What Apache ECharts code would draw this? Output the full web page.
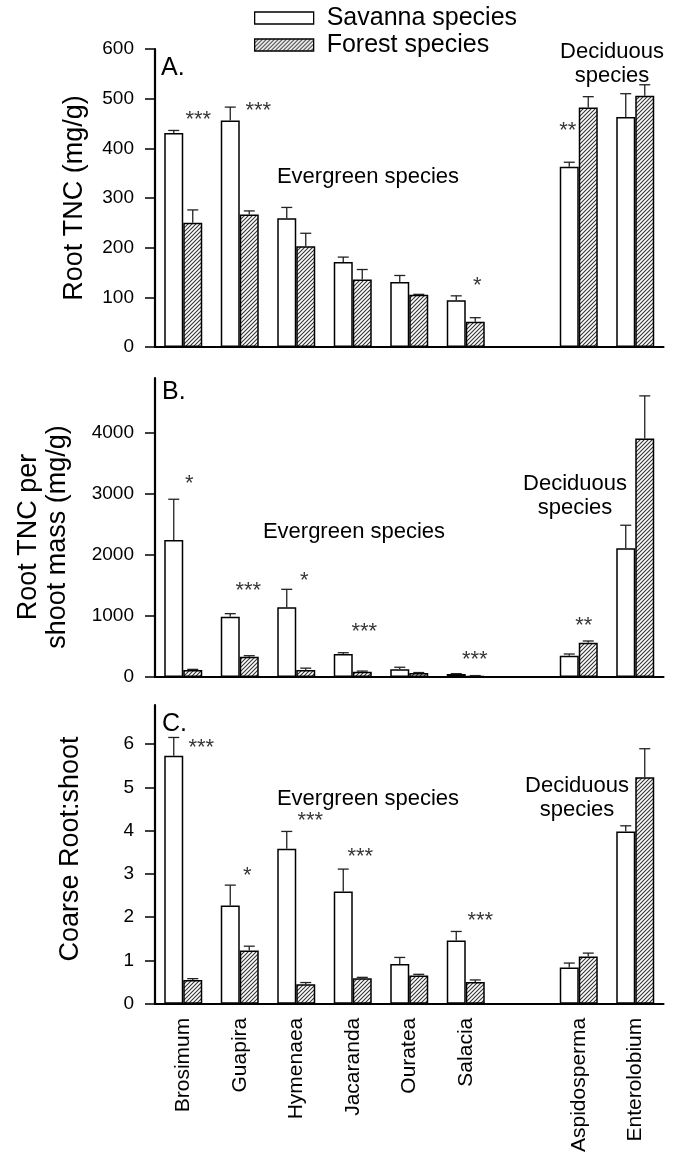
<!DOCTYPE html>
<html>
<head>
<meta charset="utf-8">
<script src="https://cdn.jsdelivr.net/npm/echarts@6/dist/echarts.min.js"></script>
<style>
  html, body { margin: 0; background: #fff; }
  #chart { width: 677px; height: 1155px; }
</style>
</head>
<body>
<div id="chart"></div>
<script>
const species = ['Brosimum', 'Guapira', 'Hymenaea', 'Jacaranda', 'Ouratea', 'Salacia', '', 'Aspidosperma', 'Enterolobium'];

// A. Root TNC (mg/g)
const tncSavanna = [431, 456, 259, 171, 131, 94, null, 363, 463];
const tncSavannaSE = [5, 27, 22, 10, 13, 9, null, 9, 47];
const tncForest = [250, 267, 203, 136, 105, 51, null, 482, 506];
const tncForestSE = [26, 7, 26, 20, 1, 8, null, 22, 22];
const tncStars = [[0, 465, '***'], [1, 483, '***'], [5, 131, '*'], [7, 444, '**']];
const tncTicks = [0, 100, 200, 300, 400, 500, 600];

// B. Root TNC per shoot mass (mg/g)
const perSavanna = [2246, 989, 1142, 377, 126, 49, null, 350, 2110];
const perSavannaSE = [667, 49, 295, 21, 34, 6, null, 27, 377];
const perForest = [115, 333, 115, 87, 65, 20, null, 562, 3907];
const perForestSE = [10, 16, 30, 10, 8, 3, null, 28, 700];
const perStars = [[0, 3230, '*'], [1, 1475, '***'], [2, 1640, '*'], [3, 803, '***'], [5, 350, '***'], [7, 900, '**']];
const perTicks = [0, 1000, 2000, 3000, 4000];

// C. Coarse root:shoot
const rsSavanna = [5.73, 2.27, 3.58, 2.59, 0.92, 1.46, null, 0.84, 3.98];
const rsSavannaSE = [0.42, 0.47, 0.40, 0.52, 0.15, 0.21, null, 0.10, 0.13];
const rsForest = [0.55, 1.23, 0.45, 0.59, 0.65, 0.50, null, 1.09, 5.23];
const rsForestSE = [0.03, 0.10, 0.04, 0.02, 0.03, 0.05, null, 0.08, 0.66];
const rsStars = [[0, 6.0, '***'], [1, 3.05, '*'], [2, 4.32, '***'], [3, 3.49, '***'], [5, 2.01, '***']];
const rsTicks = [0, 1, 2, 3, 4, 5, 6];

// star label x shifts (px), same order as the star lists
const tncShift = [15, 18.5, 11.5, -11];
const perShift = [6, 8.5, 8, 11.5, 9, 5];
const rsShift = [18, 7.5, 14, 7.5, 14.5];

const FONT = 'Liberation Sans, Arial, sans-serif';
const BAR_W = 19;

function hatch () {
  const c = document.createElement('canvas');
  c.width = 4; c.height = 4;
  const g = c.getContext('2d');
  g.fillStyle = '#fff';
  g.fillRect(0, 0, 4, 4);
  g.strokeStyle = '#333';
  g.lineWidth = 1.1;
  g.beginPath();
  g.moveTo(0, 4); g.lineTo(4, 0);
  g.moveTo(-1, 1); g.lineTo(1, -1);
  g.moveTo(3, 5); g.lineTo(5, 3);
  g.stroke();
  return c;
}
const hatchFill = { image: hatch(), repeat: 'repeat' };

function bars (k, name, data, fill) {
  return {
    type: 'bar', name, xAxisIndex: k, yAxisIndex: k, data,
    barWidth: BAR_W, barGap: '0%',
    itemStyle: { color: fill, borderColor: '#000', borderWidth: 1.5 },
    silent: true
  };
}

function errors (k, means, ses, shift) {
  const data = [];
  means.forEach((m, i) => { if (m != null) data.push([i, m, m + ses[i]]); });
  return {
    type: 'custom', xAxisIndex: k, yAxisIndex: k, z: 5, silent: true, data,
    renderItem (params, api) {
      const p0 = api.coord([api.value(0), api.value(1)]);
      const p1 = api.coord([api.value(0), api.value(2)]);
      const x = p0[0] + shift;
      const st = { stroke: '#222', lineWidth: 1.3 };
      return {
        type: 'group',
        children: [
          { type: 'line', shape: { x1: x, y1: p0[1], x2: x, y2: p1[1] }, style: st },
          { type: 'line', shape: { x1: x - 5.5, y1: p1[1], x2: x + 5.5, y2: p1[1] }, style: st }
        ]
      };
    }
  };
}

function stars (k, list, shifts) {
  return {
    type: 'scatter', xAxisIndex: k, yAxisIndex: k, symbolSize: 0, silent: true, z: 6,
    label: { show: true, position: 'inside', fontSize: 22, color: '#000', fontFamily: FONT },
    data: list.map((s, j) => ({
      value: [s[0], s[1]],
      label: { formatter: s[2], offset: [shifts[j], 4] }
    }))
  };
}

function yAxis (k, max, ticks) {
  return {
    type: 'value', gridIndex: k, min: 0, max,
    axisLine: { show: true, lineStyle: { color: '#000', width: 2.2 } },
    axisTick: { show: true, length: 10, customValues: ticks, lineStyle: { color: '#000', width: 1.5 } },
    axisLabel: {
      fontSize: 19, color: '#000', margin: 21, customValues: ticks, fontFamily: FONT,
      formatter: v => String(v)
    },
    splitLine: { show: false }
  };
}

function xAxis (k) {
  return {
    type: 'category', gridIndex: k, data: species,
    axisLine: { lineStyle: { color: '#000', width: 2.2 } },
    axisTick: { show: false },
    axisLabel: { show: k === 2, rotate: 90, fontSize: 21, margin: 14, color: '#000', interval: 0, fontFamily: FONT }
  };
}

function txt (text, x, y, size, opts) {
  return Object.assign({
    type: 'text', x, y,
    style: Object.assign({
      text, fontSize: size, fontFamily: FONT, fill: '#000',
      align: 'center', verticalAlign: 'middle'
    }, (opts && opts.style) || {})
  }, (opts && opts.el) || {});
}

const chart = echarts.init(document.getElementById('chart'));
chart.setOption({
  backgroundColor: '#fff',
  animation: false,
  textStyle: { fontFamily: FONT },
  legend: {
    data: ['Savanna species', 'Forest species'],
    orient: 'vertical', left: 254, top: 5, padding: 0,
    icon: 'rect', itemWidth: 59, itemHeight: 12, itemGap: 1,
    textStyle: { fontSize: 25, lineHeight: 26, color: '#000', padding: [0, 0, 0, 8], fontFamily: FONT },
    itemStyle: { borderColor: '#000', borderWidth: 1.3 },
    selectedMode: false
  },
  grid: [
    { left: 155, top: 49, width: 508.5, height: 298 },
    { left: 155, top: 378, width: 508.5, height: 299 },
    { left: 155, top: 705, width: 508.5, height: 299 }
  ],
  xAxis: [xAxis(0), xAxis(1), xAxis(2)],
  yAxis: [yAxis(0, 600, tncTicks), yAxis(1, 4900, perTicks), yAxis(2, 6.9, rsTicks)],
  series: [
    bars(0, 'Savanna species', tncSavanna, '#fff'),
    bars(0, 'Forest species', tncForest, hatchFill),
    errors(0, tncSavanna, tncSavannaSE, -BAR_W / 2),
    errors(0, tncForest, tncForestSE, BAR_W / 2),
    stars(0, tncStars, tncShift),

    bars(1, 'Savanna species', perSavanna, '#fff'),
    bars(1, 'Forest species', perForest, hatchFill),
    errors(1, perSavanna, perSavannaSE, -BAR_W / 2),
    errors(1, perForest, perForestSE, BAR_W / 2),
    stars(1, perStars, perShift),

    bars(2, 'Savanna species', rsSavanna, '#fff'),
    bars(2, 'Forest species', rsForest, hatchFill),
    errors(2, rsSavanna, rsSavannaSE, -BAR_W / 2),
    errors(2, rsForest, rsForestSE, BAR_W / 2),
    stars(2, rsStars, rsShift)
  ],
  graphic: [
    txt('A.', 161, 68, 25, { style: { align: 'left' } }),
    txt('B.', 162, 392, 25, { style: { align: 'left' } }),
    txt('C.', 162, 724, 25, { style: { align: 'left' } }),
    txt('Evergreen species', 368, 177, 22),
    txt('Evergreen species', 354, 532, 22),
    txt('Evergreen species', 368, 799, 22),
    txt('Deciduous\nspecies', 612, 64, 22, { style: { lineHeight: 24 } }),
    txt('Deciduous\nspecies', 575, 496, 22, { style: { lineHeight: 24 } }),
    txt('Deciduous\nspecies', 577, 798, 22, { style: { lineHeight: 24 } }),
    txt('Root TNC (mg/g)', 75, 198, 27, { el: { rotation: Math.PI / 2 } }),
    txt('Root TNC per\nshoot mass (mg/g)', 43, 537, 27, { el: { rotation: Math.PI / 2 }, style: { lineHeight: 29 } }),
    txt('Coarse Root:shoot', 71, 849, 27, { el: { rotation: Math.PI / 2 } })
  ]
});
</script>
</body>
</html>
